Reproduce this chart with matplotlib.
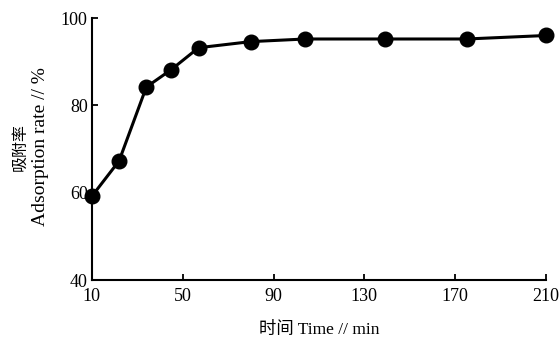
import matplotlib
matplotlib.use("Agg")
import matplotlib.pyplot as plt

# adsorption rate vs time
time_min = [10, 22, 34, 45, 57, 80, 104, 139, 175, 210]
adsorption_rate = [59.2, 67.3, 84.2, 88.2, 93.2, 94.6, 95.2, 95.2, 95.2, 96.0]

x_ticks = [10, 50, 90, 130, 170, 210]
y_ticks = [40, 60, 80, 100]

plt.rcParams['font.family'] = ['Liberation Serif', 'Noto Sans CJK SC']

fig = plt.figure(figsize=(5.6, 3.4), dpi=100)
ax = fig.add_axes([0.164, 0.176, 0.811, 0.771])

ax.plot(time_min, adsorption_rate, color='black', linewidth=2.2,
        marker='o', markersize=10.5, markerfacecolor='black',
        markeredgecolor='black', clip_on=False, zorder=3)

ax.set_xlim(10, 210)
ax.set_ylim(40, 100)
ax.set_xticks(x_ticks)
ax.set_yticks(y_ticks)

# only left and bottom axes, ticks pointing inward
ax.spines['top'].set_visible(False)
ax.spines['right'].set_visible(False)
for side in ['left', 'bottom']:
    ax.spines[side].set_linewidth(1.5)
ax.tick_params(direction='in', length=4, width=1.3, labelsize=13)
ax.tick_params(axis='x', pad=6)
ax.tick_params(axis='y', pad=3)

ax.set_xlabel("时间 Time // min", fontsize=12.5, labelpad=12)

# y label in two lines: chinese smaller than the english line
ax.text(-0.158, 0.508, "吸附率", rotation=90, fontsize=11.5,
        ha='center', va='center', transform=ax.transAxes)
ax.text(-0.112, 0.508, "Adsorption rate // %", rotation=90, fontsize=14,
        ha='center', va='center', transform=ax.transAxes)

fig.savefig("out.png", dpi=100)
